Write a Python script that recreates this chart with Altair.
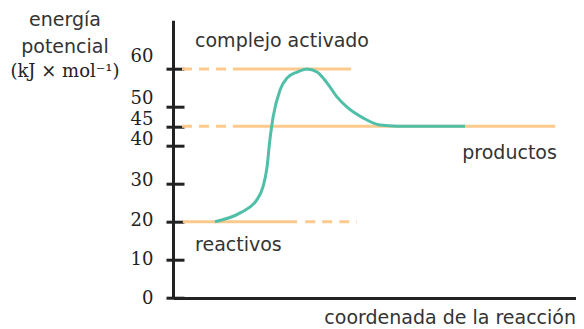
import altair as alt
import pandas as pd

# reaction profile (reaction coordinate in arbitrary units, energy in kJ/mol)
curve_x = [10.2, 16.4, 20.5, 22.0, 23.0, 23.7, 24.5, 26.2, 27.9, 30.4, 32.8,
           35.3, 37.8, 40.2, 42.7, 46.6, 50.8, 55.0, 71.7]
curve_y = [20.0, 22.3, 25.7, 29.1, 34.3, 41.4, 47.4, 54.5, 57.6, 59.2, 60.0,
           59.2, 56.3, 52.7, 50.0, 47.2, 45.3, 45.0, 45.0]

# energy level guide segments
seg_x0 = [2.1, 14.6, 2.1, 14.6, 2.3, 32.4]
seg_x1 = [14.6, 43.7, 14.6, 93.9, 30.4, 45.1]
seg_y = [60, 60, 45, 45, 20, 20]
seg_style = ["dash", "solid", "dash", "solid", "solid", "dash"]

y_ticks = [0, 10, 20, 30, 40, 45, 50, 60]

# annotations
ann_text = ["complejo activado", "reactivos", "productos"]
ann_x = [5.3, 5.3, 94.3]
ann_y = [65.7, 12.4, 36.3]
ann_align = ["left", "left", "right"]

ytitle_lines = ["energía", "potencial"]
ytitle_x = [-26.7, -26.7]
ytitle_y = [71.3, 64.1]
unit_text = ["(kJ × mol⁻¹)"]
unit_x = [-26.7]
unit_y = [58.0]

X_MAX = 99.0
Y_MAX = 72.65

SANS = "DejaVu Sans"
SERIF = "DejaVu Serif"
TXT = "#333333"
INK = "#222222"
ORANGE = "#FDCA8E"
TEAL = "#4FBFA8"

xs = alt.Scale(domain=[0, X_MAX], nice=False, zero=False)
ys = alt.Scale(domain=[0, Y_MAX], nice=False, zero=False)

x_axis = alt.Axis(title="coordenada de la reacción", domain=True, domainColor=INK,
                  domainWidth=3, ticks=False, labels=False, grid=False,
                  titleFont=SANS, titleFontSize=19, titleFontWeight="normal",
                  titleColor=TXT, titleAlign="right", titleX=402, titleY=25.3,
                  titleBaseline="alphabetic")
y_axis = alt.Axis(values=y_ticks, domain=False, ticks=True, tickSize=18, tickWidth=3,
                  tickColor=INK, offset=-10.5, labelFont=SERIF, labelFontSize=18,
                  labelColor=INK, labelPadding=13,
                  labelOffset=alt.ExprRef("-0.0035*datum.value*datum.value"),
                  grid=False, title=None)

seg_df = pd.DataFrame({"x0": seg_x0, "x1": seg_x1, "y": seg_y, "style": seg_style})
curve_df = pd.DataFrame({"x": curve_x, "y": curve_y})
ann_df = pd.DataFrame({"t": ann_text, "x": ann_x, "y": ann_y, "a": ann_align})
yt_df = pd.DataFrame({"t": ytitle_lines, "x": ytitle_x, "y": ytitle_y})
un_df = pd.DataFrame({"t": unit_text, "x": unit_x, "y": unit_y})
dom_df = pd.DataFrame({"x": [0], "y0": [0], "y1": [Y_MAX]})

segs = alt.Chart(seg_df).mark_rule(color=ORANGE, strokeWidth=3).encode(
    x=alt.X("x0:Q", scale=xs, axis=x_axis),
    x2="x1:Q",
    y=alt.Y("y:Q", scale=ys, axis=y_axis),
    strokeDash=alt.StrokeDash("style:N", scale=alt.Scale(domain=["solid", "dash"],
                              range=[[1, 0], [10, 7]]), legend=None),
)

ydom = alt.Chart(dom_df).mark_rule(color=INK, strokeWidth=3).encode(
    x=alt.X("x:Q", scale=xs, axis=x_axis),
    y=alt.Y("y0:Q", scale=ys, axis=y_axis),
    y2="y1:Q",
)

curve = alt.Chart(curve_df).mark_line(color=TEAL, strokeWidth=3,
                                      interpolate="monotone").encode(
    x=alt.X("x:Q", scale=xs, axis=x_axis),
    y=alt.Y("y:Q", scale=ys, axis=y_axis),
)

ann_left = alt.Chart(ann_df[ann_df.a == "left"]).mark_text(
    font=SANS, fontSize=19, color=TXT, align="left", baseline="alphabetic").encode(
    x=alt.X("x:Q", scale=xs, axis=x_axis),
    y=alt.Y("y:Q", scale=ys, axis=y_axis),
    text="t:N",
)
ann_right = alt.Chart(ann_df[ann_df.a == "right"]).mark_text(
    font=SANS, fontSize=19, color=TXT, align="right", baseline="alphabetic").encode(
    x=alt.X("x:Q", scale=xs, axis=x_axis),
    y=alt.Y("y:Q", scale=ys, axis=y_axis),
    text="t:N",
)
ytitle = alt.Chart(yt_df).mark_text(
    font=SANS, fontSize=19, color=TXT, align="center", baseline="alphabetic").encode(
    x=alt.X("x:Q", scale=xs, axis=x_axis),
    y=alt.Y("y:Q", scale=ys, axis=y_axis),
    text="t:N",
)
units = alt.Chart(un_df).mark_text(
    font=SERIF, fontSize=18, color=INK, align="center", baseline="alphabetic").encode(
    x=alt.X("x:Q", scale=xs, axis=x_axis),
    y=alt.Y("y:Q", scale=ys, axis=y_axis),
    text="t:N",
)

chart = alt.layer(segs, curve, ydom, ann_left, ann_right, ytitle, units).properties(
    width=402.5, height=277.3,
    padding={"left": 165.5, "top": 12.7, "right": 0, "bottom": 31},
    autosize=alt.AutoSizeParams(type="none"),
).configure_view(stroke=None)

chart.save("out.html", embed_options={"renderer": "svg", "actions": False})
